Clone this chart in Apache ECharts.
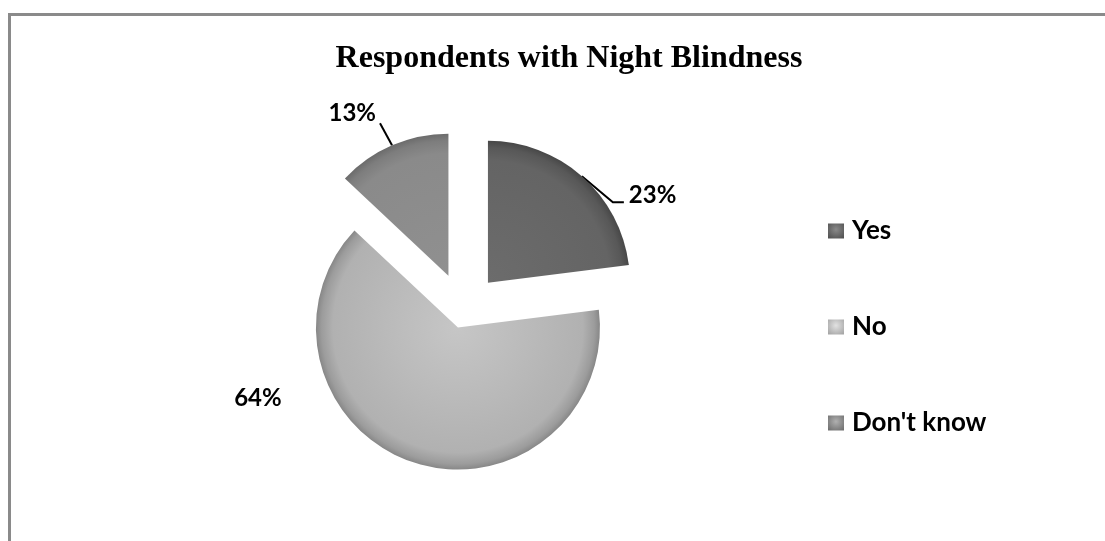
<!DOCTYPE html>
<html>
<head>
<meta charset="utf-8">
<title>Respondents with Night Blindness</title>
<script src="https://cdn.jsdelivr.net/npm/echarts@6/dist/echarts.min.js"></script>
<style>
  html, body { margin: 0; padding: 0; background: #fff; overflow: hidden; }
  body { width: 1105px; height: 541px; position: relative; }
  /* grey frame of the original picture, right and bottom edges are cut off */
  #frame { position: absolute; left: 8px; top: 13px; width: 1200px; height: 600px;
           border: 3px solid #8a8a8a; box-sizing: border-box; }
  #chart { position: absolute; left: 0; top: 0; width: 1105px; height: 541px; }
</style>
</head>
<body>
<div id="frame"></div>
<div id="chart"></div>
<script>
// data
var categories = ['Yes', 'No', "Don't know"];
var percents = [23, 64, 13];

// looks
var pieCenter = [463.5, 310.5];
var pieRadius = 142;
var explode = [37, 18, 38];          // how far each slice is pulled out
var sliceStops = [
  [[0, '#6c6c6c'], [0.86, '#646464'], [0.95, '#585858'], [1, '#474747']],
  [[0, '#c6c6c6'], [0.5, '#bababa'], [0.88, '#b1b1b1'], [0.96, '#9c9c9c'], [1, '#878787']],
  [[0, '#909090'], [0.86, '#8a8a8a'], [0.95, '#7d7d7d'], [1, '#6b6b6b']]
];
var legendStops = [
  [[0, '#8a8a8a'], [1, '#505050']],
  [[0, '#e2e2e2'], [1, '#a4a4a4']],
  [[0, '#b0b0b0'], [1, '#6e6e6e']]
];

var myChart = echarts.init(document.getElementById('chart'));

// centre of every slice after it is pulled out along its middle angle
var total = percents.reduce(function (a, b) { return a + b; }, 0);
var centers = [];
var acc = 0;
percents.forEach(function (p, i) {
  var mid = (acc + p / 2) / total * 2 * Math.PI;   // clockwise from 12 o'clock
  acc += p;
  centers.push([pieCenter[0] + explode[i] * Math.sin(mid),
                pieCenter[1] - explode[i] * Math.cos(mid)]);
});

// one pie series per slice so every slice can have its own offset
var series = categories.map(function (name, i) {
  return {
    type: 'pie',
    center: centers[i],
    radius: pieRadius,
    startAngle: 90,
    clockwise: true,
    silent: true,
    avoidLabelOverlap: false,
    animation: false,
    label: {
      formatter: '{c}%',
      fontFamily: 'Lato',
      fontWeight: 'bold',
      fontSize: 24,
      color: '#000'
    },
    labelLine: { lineStyle: { color: '#000', width: 2 }, length: 10, length2: 10 },
    data: categories.map(function (n, j) {
      var mine = (i === j);
      return {
        name: n,
        value: percents[j],
        itemStyle: mine
          ? { color: new echarts.graphic.RadialGradient(centers[i][0], centers[i][1], pieRadius,
                sliceStops[i].map(function (s) { return { offset: s[0], color: s[1] }; }), true) }
          : { color: 'rgba(0,0,0,0)' },
        label: { show: mine },
        labelLine: { show: mine && j !== 1 }
      };
    }),
    labelLayout: function (params) {
      var pts = params.labelLinePoints;
      if (params.dataIndex === 0 && pts) {
        var p0 = pts[0];
        var p1 = [p0[0] + 31, p0[1] + 26];
        var p2 = [p1[0] + 11, p1[1]];
        return { x: p2[0] + 5, y: p2[1] - 7, align: 'left', verticalAlign: 'middle',
                 labelLinePoints: [p0, p1, p2] };
      }
      if (params.dataIndex === 2 && pts) {
        var q0 = pts[0];
        var q2 = [q0[0] - 12, q0[1] - 22];
        var q1 = [(q0[0] + q2[0]) / 2, (q0[1] + q2[1]) / 2];
        return { x: q2[0] - 4, y: q2[1] - 10, align: 'right', verticalAlign: 'middle',
                 labelLinePoints: [q0, q1, q2] };
      }
      if (params.dataIndex === 1) {
        return { x: centers[1][0] - 200, y: centers[1][1] + 71, align: 'center', verticalAlign: 'middle' };
      }
    }
  };
});

var option = {
  backgroundColor: 'transparent',
  title: {
    text: 'Respondents with Night Blindness',
    left: 564,
    top: 38,
    textAlign: 'center',
    textStyle: {
      fontFamily: 'Liberation Serif',
      fontWeight: 'bold',
      fontSize: 32,
      color: '#000'
    }
  },
  legend: {
    orient: 'vertical',
    left: 823,
    top: 213,
    itemWidth: 16,
    itemHeight: 15,
    itemGap: 70,
    icon: 'rect',
    selectedMode: false,
    textStyle: {
      fontFamily: 'Lato',
      fontWeight: 'bold',
      fontSize: 26,
      color: '#000',
      padding: [0, 0, 0, 3]
    },
    data: categories.map(function (n, i) {
      return {
        name: n,
        itemStyle: {
          opacity: 1,
          color: new echarts.graphic.RadialGradient(0.5, 0.4, 0.75,
            legendStops[i].map(function (s) { return { offset: s[0], color: s[1] }; }))
        }
      };
    })
  },
  series: series
};

myChart.setOption(option);
</script>
</body>
</html>
